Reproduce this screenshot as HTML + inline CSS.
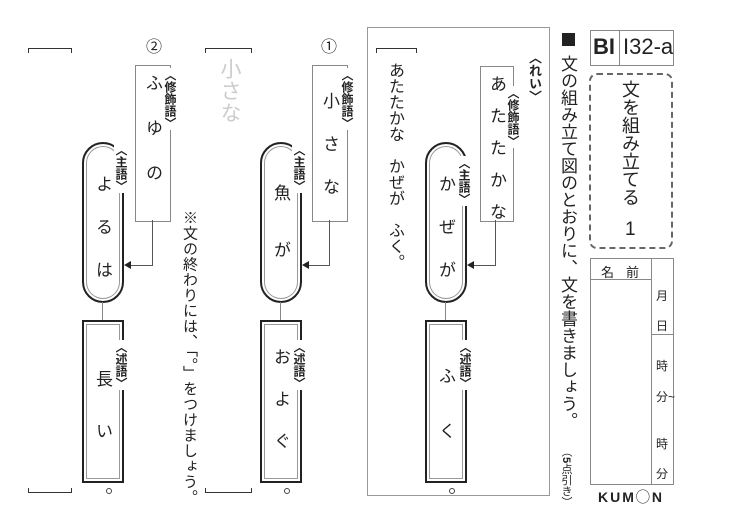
<!DOCTYPE html>
<html><head><meta charset="utf-8"><style>
body{margin:0;width:744px;height:530px;background:#fff;position:relative;overflow:hidden;font-family:"Liberation Sans","Noto Sans CJK JP",sans-serif;color:#222}
.a{position:absolute}
.v{position:absolute;writing-mode:vertical-rl;white-space:nowrap;line-height:1}
.box{position:absolute;border:1px solid #888;background:#fff}
.pill{position:absolute;border:2px solid #222;border-radius:21px 21px 21px 21px;box-shadow:inset 0 0 0 2px #fff,inset 0 0 0 3px #999;background:#fff}
.pred{position:absolute;border:2px solid #222;box-shadow:inset 0 0 0 2px #fff,inset 0 0 0 3px #999;background:#fff}
.lab{position:absolute;writing-mode:vertical-rl;font-size:12px;font-weight:bold;background:#fff;line-height:14px;padding:1px 0}
.br{position:absolute;height:4px;border-top:1px solid #333;border-left:1px solid #333;border-right:1px solid #333}
.brb{position:absolute;height:4px;border-bottom:1px solid #333;border-left:1px solid #333;border-right:1px solid #333}
.ln{position:absolute;background:#555}
.circ{position:absolute;width:4px;height:4px;border:1px solid #444;border-radius:50%}
.t{font-size:17px}
</style></head><body>

<!-- section 2 -->
<div class="a" style="left:146px;top:33px;font-size:16px">②</div>
<div class="br" style="left:28px;top:48px;width:42px"></div>
<div class="brb" style="left:28px;top:488px;width:42px"></div>
<div class="box" style="left:135px;top:65px;width:34px;height:155px"></div>
<div class="v t" style="left:144px;top:74px;letter-spacing:28px">ふゆの</div>
<div class="lab" style="left:163px;top:68px">〈修飾語〉</div>
<div class="ln" style="left:152px;top:220px;width:1px;height:45px"></div>
<div class="ln" style="left:126px;top:265px;width:27px;height:1px"></div>
<div class="a" style="left:124px;top:261px;width:0;height:0;border-top:4px solid transparent;border-bottom:4px solid transparent;border-right:7px solid #222"></div>
<div class="pill" style="left:82px;top:142px;width:38px;height:157px"></div>
<div class="v t" style="left:94px;top:175px;letter-spacing:26px">よるは</div>
<div class="lab" style="left:114px;top:143px">〈主語〉</div>
<div class="ln" style="left:102px;top:302px;width:1px;height:18px;background:#888"></div>
<div class="pred" style="left:82px;top:320px;width:38px;height:159px"></div>
<div class="v t" style="left:94px;top:370px;letter-spacing:35px">長い</div>
<div class="lab" style="left:114px;top:340px">〈述語〉</div>
<div class="circ" style="left:106px;top:488px"></div>

<!-- note -->
<div class="v" style="left:182px;top:210px;font-size:15px;letter-spacing:0.5px">※文の終わりには、「。」をつけましょう。</div>

<!-- section 1 -->
<div class="a" style="left:321px;top:33px;font-size:16px">①</div>
<div class="br" style="left:205px;top:48px;width:45px"></div>
<div class="brb" style="left:205px;top:488px;width:45px"></div>
<div class="v" style="left:219px;top:58px;font-size:21px;color:#ccc;letter-spacing:1px">小さな</div>
<div class="box" style="left:312px;top:65px;width:34px;height:155px"></div>
<div class="v t" style="left:321px;top:92px;letter-spacing:26px">小さな</div>
<div class="lab" style="left:340px;top:68px">〈修飾語〉</div>
<div class="ln" style="left:329px;top:220px;width:1px;height:45px"></div>
<div class="ln" style="left:305px;top:265px;width:25px;height:1px"></div>
<div class="a" style="left:302px;top:261px;width:0;height:0;border-top:4px solid transparent;border-bottom:4px solid transparent;border-right:7px solid #222"></div>
<div class="pill" style="left:260px;top:142px;width:38px;height:157px"></div>
<div class="v t" style="left:272px;top:184px;letter-spacing:40px">魚が</div>
<div class="lab" style="left:292px;top:143px">〈主語〉</div>
<div class="ln" style="left:280px;top:302px;width:1px;height:18px;background:#888"></div>
<div class="pred" style="left:260px;top:320px;width:38px;height:159px"></div>
<div class="v t" style="left:272px;top:348px;letter-spacing:25px">およぐ</div>
<div class="lab" style="left:292px;top:340px">〈述語〉</div>
<div class="circ" style="left:284px;top:488px"></div>

<!-- example -->
<div class="a" style="left:367px;top:27px;width:181px;height:467px;border:1px solid #999"></div>
<div class="br" style="left:376px;top:48px;width:39px"></div>
<div class="v" style="left:386px;top:62px;font-size:16px">あたたかな　かぜが　ふく。</div>
<div class="lab" style="left:527px;top:50px;font-size:13px">〈れい〉</div>
<div class="box" style="left:480px;top:66px;width:32px;height:154px"></div>
<div class="v t" style="left:488px;top:75px;letter-spacing:15px">あたたかな</div>
<div class="lab" style="left:506px;top:86px">〈修飾語〉</div>
<div class="ln" style="left:495px;top:220px;width:1px;height:45px"></div>
<div class="ln" style="left:470px;top:265px;width:26px;height:1px"></div>
<div class="a" style="left:467px;top:261px;width:0;height:0;border-top:4px solid transparent;border-bottom:4px solid transparent;border-right:7px solid #222"></div>
<div class="pill" style="left:425px;top:142px;width:38px;height:157px"></div>
<div class="v t" style="left:437px;top:175px;letter-spacing:26px">かぜが</div>
<div class="lab" style="left:457px;top:156px">〈主語〉</div>
<div class="ln" style="left:445px;top:302px;width:1px;height:18px;background:#888"></div>
<div class="pred" style="left:425px;top:320px;width:38px;height:159px"></div>
<div class="v t" style="left:437px;top:367px;letter-spacing:38px">ふく</div>
<div class="lab" style="left:458px;top:340px">〈述語〉</div>
<div class="circ" style="left:449px;top:488px"></div>

<!-- right panel -->
<div class="a" style="left:562px;top:33px;width:13px;height:13px;background:#222"></div>
<div class="v" style="left:559px;top:55px;font-size:17px">文の組み立て図のとおりに、文を書きましょう。</div>
<div class="v" style="left:560px;top:446px;font-size:11px">（<b>5</b>点引き）</div>
<div class="a" style="left:590px;top:30px;width:82px;height:34px;border:1px solid #888"></div>
<div class="ln" style="left:619px;top:30px;width:1px;height:35px;background:#888"></div>
<div class="a" style="left:593px;top:34px;font-size:22px;font-weight:bold">BI</div>
<div class="a" style="left:623px;top:34px;font-size:22px">I32-a</div>
<div class="a" style="left:589px;top:73px;width:80px;height:172px;border:2px dashed #666;border-radius:8px"></div>
<div class="v" style="left:621px;top:80px;font-size:18px">文を組み立てる</div>
<div class="a" style="left:625px;top:219px;font-size:19px">1</div>
<div class="a" style="left:590px;top:258px;width:82px;height:225px;border:1px solid #888"></div>
<div class="ln" style="left:651px;top:258px;width:1px;height:226px;background:#888"></div>
<div class="ln" style="left:590px;top:279px;width:62px;height:1px;background:#888"></div>
<div class="ln" style="left:651px;top:334px;width:22px;height:1px;background:#888"></div>
<div class="a" style="left:601px;top:262px;font-size:13px;letter-spacing:12px">名前</div>
<div class="a" style="left:656px;top:287px;font-size:12px">月</div>
<div class="a" style="left:656px;top:317px;font-size:12px">日</div>
<div class="a" style="left:656px;top:357px;font-size:12px">時</div>
<div class="a" style="left:656px;top:388px;font-size:12px">分~</div>
<div class="a" style="left:656px;top:435px;font-size:12px">時</div>
<div class="a" style="left:656px;top:465px;font-size:12px">分</div>
<div class="a" style="left:598px;top:487px;font-size:14px;letter-spacing:2px;font-weight:bold">KUM◯N</div>
</body></html>
